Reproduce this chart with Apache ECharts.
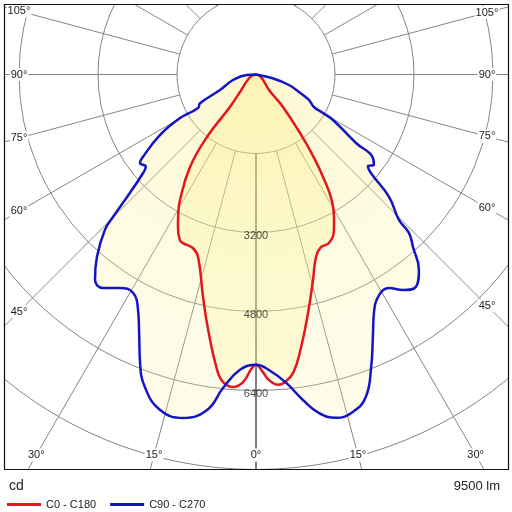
<!DOCTYPE html>
<html>
<head>
<meta charset="utf-8">
<script src="https://cdn.jsdelivr.net/npm/echarts@6/dist/echarts.min.js"></script>
<style>html,body{margin:0;padding:0;background:#fff;}#c{width:512px;height:512px;}</style>
</head>
<body>
<div id="c"></div>
<script>
// C0 - C180 plane (angle in degrees from nadir, negative = left half; intensity in cd)
const redAngles = [-90, -67, -42.4, -38.7, -38.1, -35.5, -31.2, -29.0, -27.1, -24.7, -23.4, -20.0, -17.6, -13.4, -10.6, -7.5, -6.1, -4.2, -2.4, -0.8, 0, 1.3, 2.4, 4.1, 5.2, 7.1, 9.4, 12.3, 15.5, 18.2, 20.6, 23.4, 26.6, 28.2, 30.2, 33.2, 36.1, 39.7, 40, 63, 90];
const redValues = [0, 130, 480, 845, 1610, 2300, 2970, 3250, 3470, 3690, 3720, 3740, 3880, 4630, 5265, 6035, 6265, 6345, 6235, 5945, 5880, 6025, 6190, 6300, 6270, 6090, 5595, 4945, 4320, 3890, 3735, 3720, 3525, 3345, 3105, 2480, 1715, 855, 410, 115, 0];
// C90 - C270 plane
const blueAngles = [-90, -87, -76.5, -66.7, -62.8, -60.0, -60.2, -57.8, -53.9, -52.7, -50.1, -48.9, -46.8, -45.1, -44.2, -41.1, -38.1, -35.6, -32.5, -29.4, -26.6, -24.6, -21.9, -19.6, -16.0, -12.0, -8.3, -6.0, -3.1, 0, 2.5, 5.6, 8.2, 10.5, 13.1, 16.0, 18.8, 21.5, 24.0, 26.3, 29.2, 31.9, 34.3, 37.0, 39.8, 42.3, 44.0, 44.5, 47.4, 49.4, 50.7, 52.5, 54.5, 55.6, 59.4, 60.1, 60.7, 64.3, 67.9, 72.3, 77.2, 90];
const blueValues = [0, 190, 480, 795, 1275, 1355, 1775, 2300, 2835, 2955, 2910, 3035, 3505, 4090, 4390, 4900, 5285, 5320, 5125, 5075, 5335, 5690, 6295, 6715, 7065, 7110, 6865, 6385, 5990, 5880, 5990, 6275, 6660, 6970, 7140, 7110, 6900, 6365, 5820, 5390, 5115, 5095, 5285, 5385, 5155, 4725, 4460, 4130, 3660, 3065, 2930, 3010, 2910, 2455, 1810, 1565, 1345, 1190, 940, 700, 345, 0];
// axis ticks / labels
const radiusLabels = [3200, 4800, 6400];
const angleTickLabels = [0, 15, 30, 45, 60, 75, 90, 105];
const gridAngles = [-165, -150, -135, -120, -105, -90, -75, -60, -45, -30, -15, 0, 15, 30, 45, 60, 75, 90, 105, 120, 135, 150, 165, 180];
const seriesNames = ['C0 - C180', 'C90 - C270'];
const unitText = 'cd';
const fluxText = '9500 lm';

const CX = 256, CY = 74.5, PX_PER_CD = 79 / 1600, RMAX = 16000;
const FONT = 'Liberation Sans, Arial, sans-serif';

const chart = echarts.init(document.getElementById('c'));

const toData = (angs, vals) => angs.map((a, i) => [vals[i], a]);
const redData = toData(redAngles, redValues);
const blueData = toData(blueAngles, blueValues);

function fillGrad() {
  return new echarts.graphic.RadialGradient(CX, CY, 420, [
    { offset: 0, color: 'rgba(250,234,120,0.34)' },
    { offset: 0.45, color: 'rgba(250,240,140,0.25)' },
    { offset: 1, color: 'rgba(251,244,160,0.20)' }
  ], true);
}

const series = [];
gridAngles.forEach(a => {
  series.push({
    type: 'line', coordinateSystem: 'polar', silent: true, symbol: 'none', z: 1,
    lineStyle: { color: a === 0 ? '#000' : '#858585', width: 1 },
    data: [[1600, a], [RMAX, a]], animation: false
  });
});
[[redData, 'redfill'], [blueData, 'bluefill']].forEach(([d, n]) => {
  series.push({
    type: 'line', name: n, coordinateSystem: 'polar', silent: true, symbol: 'none', z: 2,
    smooth: 0.45, lineStyle: { width: 0, opacity: 0 }, areaStyle: { color: fillGrad(), opacity: 1 },
    data: d, animation: false
  });
});
series.push({
  type: 'line', name: seriesNames[0], coordinateSystem: 'polar', symbol: 'none', z: 3, smooth: 0.45,
  lineStyle: { color: '#e3171c', width: 2.5 }, itemStyle: { color: '#e3171c' }, data: redData, animation: false
});
series.push({
  type: 'line', name: seriesNames[1], coordinateSystem: 'polar', symbol: 'none', z: 4, smooth: 0.45,
  lineStyle: { color: '#1414c4', width: 2.5 }, itemStyle: { color: '#1414c4' }, data: blueData, animation: false
});
series.push({
  type: 'scatter', coordinateSystem: 'polar', symbolSize: 0, z: 5, silent: true,
  data: radiusLabels.map(v => [v, 0]),
  label: { show: true, position: 'inside', offset: [0, 3], formatter: p => String(p.value[0]), fontSize: 11, color: '#222', fontFamily: FONT },
  animation: false
});

// angle labels where each ray meets the inner margin of the frame
const IN = { left: 19, right: 487, top: 8, bottom: 455 };
const graphics = [];
angleTickLabels.forEach(a => {
  const sides = a === 0 ? [1] : [-1, 1];
  sides.forEach(s => {
    const rad = a * Math.PI / 180;
    const dx = s * Math.sin(rad), dy = Math.cos(rad);
    const ts = [];
    if (dx > 1e-6) ts.push((IN.right - CX) / dx);
    if (dx < -1e-6) ts.push((IN.left - CX) / dx);
    if (dy > 1e-6) ts.push((IN.bottom - CY) / dy);
    if (dy < -1e-6) ts.push((IN.top - CY) / dy);
    const t = Math.min.apply(null, ts);
    graphics.push({
      type: 'text', z: 50, x: CX + dx * t, y: CY + dy * t,
      style: { text: a + '°', fontSize: 11, fontFamily: FONT, fill: '#222', align: 'center', verticalAlign: 'middle',
        backgroundColor: '#fff', padding: [1, 1] }
    });
  });
});
// masks outside the frame
graphics.push({ type: 'rect', z: 90, shape: { x: 0, y: 470, width: 512, height: 42 }, style: { fill: '#fff' } });
graphics.push({ type: 'rect', z: 90, shape: { x: 0, y: 0, width: 512, height: 4 }, style: { fill: '#fff' } });
graphics.push({ type: 'rect', z: 90, shape: { x: 0, y: 0, width: 4, height: 512 }, style: { fill: '#fff' } });
graphics.push({ type: 'rect', z: 90, shape: { x: 509, y: 0, width: 3, height: 512 }, style: { fill: '#fff' } });
graphics.push({ type: 'rect', z: 95, shape: { x: 4.5, y: 4.5, width: 504, height: 465 }, style: { fill: 'none', stroke: '#111', lineWidth: 1.2 } });
graphics.push({ type: 'text', z: 96, x: 9, y: 486, style: { text: unitText, fontSize: 14, fontFamily: FONT, fill: '#222', verticalAlign: 'middle' } });
graphics.push({ type: 'text', z: 96, x: 500, y: 486, style: { text: fluxText, fontSize: 13, fontFamily: FONT, fill: '#222', align: 'right', verticalAlign: 'middle' } });

chart.setOption({
  backgroundColor: '#fff',
  animation: false,
  textStyle: { fontFamily: FONT },
  polar: { center: [CX, CY], radius: RMAX * PX_PER_CD },
  angleAxis: {
    type: 'value', min: -180, max: 180, startAngle: 90, clockwise: false,
    axisLine: { show: false }, axisTick: { show: false }, axisLabel: { show: false }, splitLine: { show: false }
  },
  radiusAxis: {
    type: 'value', min: 0, max: RMAX, interval: 1600,
    axisLine: { show: false }, axisTick: { show: false }, axisLabel: { show: false },
    splitLine: { show: true, lineStyle: { color: '#858585', width: 1 } }
  },
  legend: {
    data: seriesNames, left: 2, top: 494, z: 200, itemWidth: 34, itemHeight: 10, itemGap: 14,
    icon: 'path://M0,4L34,4L34,7L0,7Z',
    textStyle: { fontSize: 11, color: '#222', fontFamily: FONT }, selectedMode: false
  },
  graphic: graphics,
  series: series
});
</script>
</body>
</html>
